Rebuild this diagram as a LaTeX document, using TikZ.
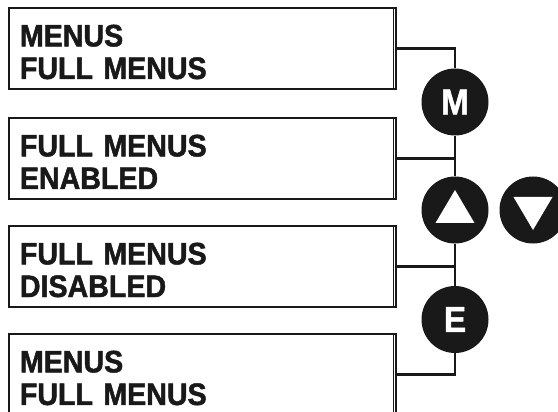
\documentclass[tikz,border=0pt]{standalone}
\usepackage{fontspec}
\setmainfont{Liberation Sans}[FakeStretch=0.92,BoldFeatures={FakeBold=1.5}]
\usetikzlibrary{calc}
\usetikzlibrary{positioning}

\begin{document}
\begin{tikzpicture}[x=1pt,y=-1pt,
        menubox/.style={draw=black!90,line width=1.8pt,anchor=north west,minimum width=387pt,
            inner xsep=11pt,inner ysep=0pt,text width=365pt,align=left,
            text height=38.5pt,text depth=42.5pt,text=black!90,
            font=\fontsize{31.1}{32.6}\selectfont\bfseries},
        key/.style={circle,fill=black!90,minimum size=67pt,inner sep=0pt,text=white,
            font=\fontsize{36}{36}\selectfont\bfseries},
        link/.style={draw=black!90,line width=2.4pt}]
        \useasboundingbox (0,0) rectangle (558,412);
        \clip (0,0) rectangle (558,412);

        \node[menubox] (menuA) at (8,7) {MENUS\\FULL MENUS};
        \node[menubox] (menuB) at (8,117) {FULL MENUS\\ENABLED};
        \node[menubox] (menuC) at (8,225) {FULL MENUS\\DISABLED};
        \node[menubox] (menuD) at (8,333) {MENUS\\FULL MENUS};
        \foreach \m in {menuA,menuB,menuC,menuD}
            \draw[black!90,line width=1.5pt] ([xshift=-3.5pt]\m.north east) -- ([xshift=-3.5pt]\m.south east);

        \node[key] (keyM) at (455,102) {M};
        \node[key] (keyUp) at (455,210) {};
        \node[key] (keyDown) at (533,210) {};
        \node[key] (keyE) at (455,319.5) {E};
        \fill[white] ($(keyUp)+(0,-20)$) -- ($(keyUp)+(-19.5,13)$) -- ($(keyUp)+(19.5,13)$) -- cycle;
        \fill[white] ($(keyDown)+(0,20)$) -- ($(keyDown)+(-19.5,-13)$) -- ($(keyDown)+(19.5,-13)$) -- cycle;

        \draw[link] (menuA.east) -| (keyM.north);
        \draw[link] (keyM.south) -- (keyUp.north);
        \draw[link] (menuB.east) -- (menuB.east -| keyM.south);
        \draw[link] (keyUp.south) -- (keyE.north);
        \draw[link] (menuC.east) -- (menuC.east -| keyE.north);
        \draw[link] (keyE.south) |- (menuD.east);
    \end{tikzpicture}
\end{document}
